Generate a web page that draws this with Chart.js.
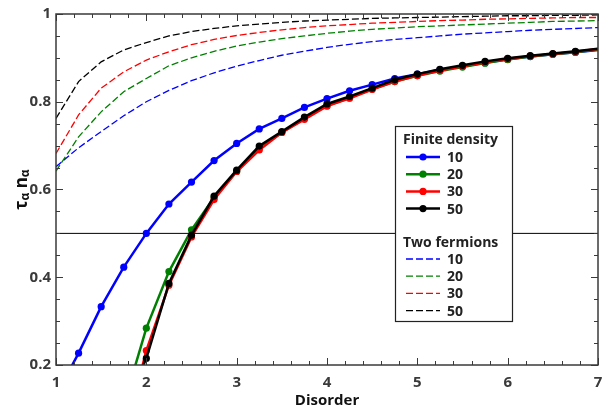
<!DOCTYPE html>
<html>
<head>
<meta charset="utf-8">
<script src="https://cdn.jsdelivr.net/npm/chart.js@4.4.1/dist/chart.umd.min.js"></script>
<style>
  html, body { margin: 0; padding: 0; background: #fff; }
  #wrap { width: 603px; height: 410px; position: relative; }
</style>
</head>
<body>
<div id="wrap"><canvas id="c"></canvas></div>
<script>
'use strict';

/* ── Data ───────────────────────────────────────────────── */
const disorder = [1, 1.25, 1.5, 1.75, 2, 2.25, 2.5, 2.75, 3, 3.25, 3.5, 3.75, 4,
  4.25, 4.5, 4.75, 5, 5.25, 5.5, 5.75, 6, 6.25, 6.5, 6.75, 7];

// finite density, solid with markers
const fd10 = [0.13, 0.227, 0.333, 0.423, 0.500, 0.567, 0.617, 0.666, 0.705, 0.738, 0.762, 0.787, 0.807,
  0.825, 0.839, 0.853, 0.863, 0.873, 0.881, 0.889, 0.897, 0.903, 0.908, 0.913, 0.918];
const fd20 = [null, null, null, 0.11, 0.284, 0.413, 0.508, 0.582, 0.641, 0.694, 0.730, 0.762, 0.791,
  0.809, 0.829, 0.846, 0.859, 0.870, 0.879, 0.888, 0.896, 0.903, 0.908, 0.913, 0.919];
const fd30 = [null, null, null, 0.03, 0.233, 0.382, 0.492, 0.577, 0.641, 0.690, 0.730, 0.760, 0.790,
  0.808, 0.828, 0.846, 0.860, 0.871, 0.881, 0.890, 0.898, 0.904, 0.909, 0.914, 0.920];
const fd50 = [null, null, null, 0.10, 0.215, 0.386, 0.496, 0.585, 0.644, 0.699, 0.732, 0.765, 0.795,
  0.812, 0.831, 0.850, 0.863, 0.874, 0.883, 0.892, 0.899, 0.905, 0.910, 0.915, 0.921];

// two fermions, dashed
const tf10 = [0.652, 0.695, 0.732, 0.768, 0.800, 0.826, 0.848, 0.866, 0.881, 0.894, 0.906, 0.915, 0.924,
  0.931, 0.937, 0.942, 0.946, 0.950, 0.954, 0.957, 0.960, 0.963, 0.965, 0.967, 0.969];
const tf20 = [0.642, 0.720, 0.777, 0.823, 0.853, 0.882, 0.900, 0.915, 0.927, 0.936, 0.944, 0.950, 0.956,
  0.961, 0.965, 0.968, 0.971, 0.973, 0.975, 0.977, 0.979, 0.981, 0.983, 0.984, 0.985];
const tf30 = [0.682, 0.770, 0.831, 0.868, 0.895, 0.914, 0.930, 0.942, 0.951, 0.958, 0.964, 0.969, 0.973,
  0.976, 0.979, 0.981, 0.983, 0.985, 0.986, 0.988, 0.989, 0.990, 0.991, 0.992, 0.992];
const tf50 = [0.762, 0.846, 0.891, 0.918, 0.935, 0.950, 0.960, 0.967, 0.973, 0.977, 0.981, 0.984, 0.986,
  0.988, 0.990, 0.991, 0.992, 0.993, 0.994, 0.995, 0.996, 0.996, 0.997, 0.997, 0.998];

const sizeLabels = ['10', '20', '30', '50'];
const refLevel = 0.5;
const xRange = [1, 7];
const yRange = [0.2, 1];

/* ── Styles ─────────────────────────────────────────────── */
const COLORS = ['#0000ff', '#008000', '#ff0000', '#000000'];
const FONT = "'Open Sans', 'DejaVu Sans', sans-serif";
const INK = '#3a3a3a';

const pts = arr => disorder.map((x, i) => ({ x, y: arr[i] }));

const solid = [fd10, fd20, fd30, fd50].map((arr, i) => ({
  data: pts(arr),
  borderColor: COLORS[i],
  backgroundColor: COLORS[i],
  borderWidth: 2.5,
  pointRadius: c => (c.raw && c.raw.x >= 7 ? 0 : 3.6),
  pointBorderWidth: 0,
  tension: 0,
  order: 4 - i
}));

const dashed = [tf10, tf20, tf30, tf50].map((arr, i) => ({
  data: pts(arr),
  borderColor: COLORS[i],
  borderWidth: 1.3,
  borderDash: [7, 3],
  pointRadius: 0,
  tension: 0,
  order: 9 - i
}));

const refLine = {
  data: [{ x: xRange[0], y: refLevel }, { x: xRange[1], y: refLevel }],
  borderColor: '#000',
  borderWidth: 1,
  pointRadius: 0,
  order: 10
};

/* ── Frame, inward ticks, y title, legend ───────────────── */
const decor = {
  id: 'decor',
  afterDraw(chart) {
    const { ctx, chartArea: a, scales } = chart;
    const xs = scales.x, ys = scales.y;
    ctx.save();

    // inward ticks on all four sides
    ctx.strokeStyle = INK;
    ctx.lineWidth = 1;
    ctx.beginPath();
    for (let k = 0; k <= 30; k++) {
      const v = xRange[0] + k * 0.2;
      const px = Math.round(xs.getPixelForValue(v)) + 0.5;
      const len = k % 5 === 0 ? 7 : 4;
      ctx.moveTo(px, a.bottom); ctx.lineTo(px, a.bottom - len);
      ctx.moveTo(px, a.top); ctx.lineTo(px, a.top + len);
    }
    for (let k = 0; k <= 16; k++) {
      const v = yRange[0] + k * 0.05;
      const py = Math.round(ys.getPixelForValue(v)) + 0.5;
      const len = k % 4 === 0 ? 7 : 4;
      ctx.moveTo(a.left, py); ctx.lineTo(a.left + len, py);
      ctx.moveTo(a.right, py); ctx.lineTo(a.right - len, py);
    }
    ctx.stroke();

    // frame
    ctx.lineWidth = 1.5;
    ctx.strokeStyle = INK;
    ctx.strokeRect(a.left, a.top, a.right - a.left, a.bottom - a.top);

    // y title: τα nα with subscripts
    const big = `bold 17px ${FONT}`, small = `bold 12px ${FONT}`;
    const parts = [['τ', big, 0], ['α', small, 4], [' n', big, 0], ['α', small, 4]];
    let total = 0;
    parts.forEach(p => { ctx.font = p[1]; total += ctx.measureText(p[0]).width; });
    ctx.translate(22, (a.top + a.bottom) / 2);
    ctx.rotate(-Math.PI / 2);
    ctx.fillStyle = '#111';
    ctx.textBaseline = 'middle';
    ctx.textAlign = 'left';
    let cx = -total / 2;
    parts.forEach(p => {
      ctx.font = p[1];
      ctx.fillText(p[0], cx, p[2]);
      cx += ctx.measureText(p[0]).width;
    });
    ctx.setTransform(1, 0, 0, 1, 0, 0);

    // legend box
    const L = { x: 395, y: 126, w: 117, h: 195 };
    ctx.fillStyle = '#fff';
    ctx.fillRect(L.x, L.y, L.w, L.h);
    ctx.strokeStyle = '#222';
    ctx.lineWidth = 1.2;
    ctx.strokeRect(L.x + 0.5, L.y + 0.5, L.w, L.h);

    ctx.textBaseline = 'middle';
    ctx.textAlign = 'left';
    ctx.fillStyle = '#222';
    ctx.font = `bold 14px ${FONT}`;
    ctx.fillText('Finite density', 403, 140);
    ctx.fillText('Two fermions', 403, 243);

    sizeLabels.forEach((lab, i) => {
      const y1 = 157 + i * 17.2;
      ctx.strokeStyle = COLORS[i];
      ctx.lineWidth = 2.5;
      ctx.setLineDash([]);
      ctx.beginPath(); ctx.moveTo(406, y1); ctx.lineTo(440, y1); ctx.stroke();
      ctx.fillStyle = COLORS[i];
      ctx.beginPath(); ctx.arc(423, y1, 3.6, 0, Math.PI * 2); ctx.fill();
      ctx.fillStyle = '#222';
      ctx.font = `bold 14px ${FONT}`;
      ctx.fillText(lab, 447, y1 + 1);

      const y2 = 259 + i * 17.2;
      ctx.strokeStyle = COLORS[i];
      ctx.lineWidth = 1.3;
      ctx.setLineDash([7, 3]);
      ctx.beginPath(); ctx.moveTo(406, y2); ctx.lineTo(440, y2); ctx.stroke();
      ctx.setLineDash([]);
      ctx.fillText(lab, 447, y2 + 1);
    });

    ctx.restore();
  }
};

/* ── Chart ──────────────────────────────────────────────── */
new Chart(document.getElementById('c'), {
  type: 'line',
  data: { datasets: [...solid, ...dashed, refLine] },
  options: {
    responsive: true,
    maintainAspectRatio: false,
    animation: false,
    events: [],
    layout: { padding: { top: 14, right: 5, left: 0, bottom: 0 } },
    plugins: { legend: { display: false }, tooltip: { enabled: false } },
    scales: {
      x: {
        type: 'linear',
        min: xRange[0],
        max: xRange[1],
        afterFit: s => { s.height = 45; s.paddingLeft = 0; s.paddingRight = 0; },
        grid: { display: false, drawTicks: false },
        border: { display: false },
        ticks: { stepSize: 1, padding: 9, color: INK, font: { family: FONT, size: 15, weight: 'bold' } },
        title: {
          display: true,
          text: 'Disorder',
          color: '#111',
          padding: { top: 0, bottom: 0 },
          font: { family: FONT, size: 15, weight: 'bold' }
        }
      },
      y: {
        type: 'linear',
        min: yRange[0],
        max: yRange[1],
        afterFit: s => { s.width = 56; s.paddingTop = 0; s.paddingBottom = 0; },
        grid: { display: false, drawTicks: false },
        border: { display: false },
        ticks: {
          stepSize: 0.2,
          padding: 5,
          color: INK,
          font: { family: FONT, size: 15, weight: 'bold' },
          callback: v => String(+v.toFixed(2))
        }
      }
    }
  },
  plugins: [decor]
});
</script>
</body>
</html>
